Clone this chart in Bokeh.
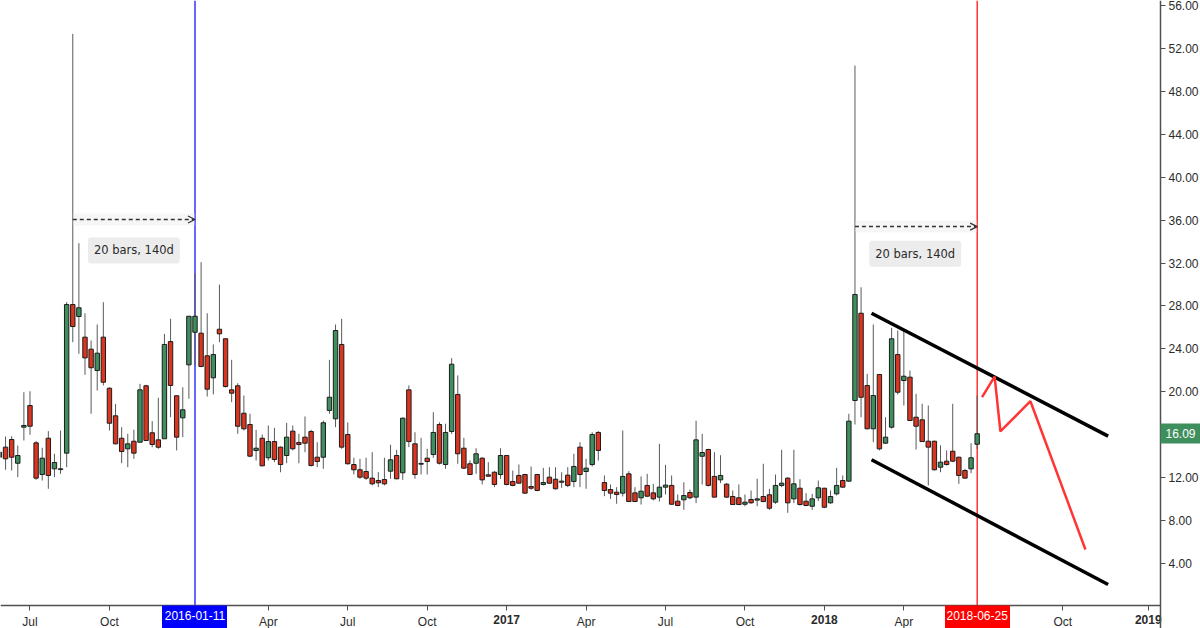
import numpy as np
import pandas as pd
from bokeh.plotting import figure
from bokeh.models import (Range1d, FixedTicker, Label, ColumnDataSource,
                          NumeralTickFormatter, Arrow, OpenHead, LinearAxis, DatetimeAxis)
from bokeh.embed import file_html
from bokeh.resources import INLINE

# ---------------- data (weekly VIX candles, first bar = week of 2015-06-01) ----------------
first_week = "2015-06-01"

opens = [
    13.90, 14.84, 15.55, 13.34, 16.70, 18.72, 15.24, 12.29, 15.67, 12.82,
    12.75, 14.28, 28.13, 27.02, 25.09, 23.97, 21.98, 25.09, 20.33, 17.76,
    15.67, 14.68, 15.39, 15.30, 20.56, 16.18, 15.52, 15.62, 24.68, 19.63,
    17.57, 22.51, 25.55, 25.46, 23.35, 21.30, 25.83, 24.94, 20.18, 20.56,
    18.00, 16.95, 14.53, 15.67, 13.85, 15.36, 14.84, 14.06, 16.33, 15.27,
    15.77, 16.30, 13.90, 13.90, 18.26, 17.48, 24.41, 16.02, 13.22, 12.73,
    12.57, 11.95, 11.73, 11.82, 12.60, 14.06, 12.45, 20.18, 15.15, 13.25,
    13.81, 14.15, 16.95, 13.22, 16.30, 19.75, 14.74, 13.29, 13.34, 13.81,
    12.26, 12.50, 12.29, 14.06, 11.64, 12.20, 12.29, 11.17, 12.29, 11.36,
    12.04, 11.85, 11.57, 12.23, 11.64, 14.84, 12.57, 13.22, 16.21, 11.54,
    10.89, 10.64, 10.55, 12.35, 10.58, 10.12, 11.27, 10.58, 10.18, 11.11,
    11.27, 9.80, 9.93, 10.61, 10.18, 13.99, 14.62, 12.11, 11.79, 11.39,
    10.24, 10.12, 9.52, 9.96, 9.90, 10.24, 10.40, 9.71, 11.27, 11.95,
    10.02, 11.01, 9.80, 9.33, 10.12, 11.01, 9.65, 10.49, 11.73, 11.67,
    19.19, 27.32, 20.58, 16.55, 21.61, 15.21, 16.70, 23.47, 21.05, 21.36,
    17.63, 17.39, 15.39, 15.39, 12.97, 13.53, 14.46, 13.90, 12.66, 12.82,
    15.11,
]
highs = [
    14.90, 15.83, 15.86, 14.99, 19.96, 20.05, 15.40, 14.78, 16.33, 14.22,
    16.39, 28.35, 53.36, 33.85, 27.32, 24.78, 26.27, 28.35, 20.42, 18.87,
    16.70, 16.08, 16.46, 20.74, 20.65, 17.26, 19.44, 25.40, 26.80, 19.65,
    20.42, 27.04, 31.02, 32.08, 27.32, 24.41, 29.99, 24.99, 22.98, 20.80,
    19.65, 17.95, 16.46, 16.02, 16.86, 16.64, 14.90, 17.11, 16.86, 16.08,
    17.70, 16.46, 15.30, 17.32, 22.98, 26.27, 26.80, 17.14, 13.85, 13.75,
    13.85, 14.37, 12.51, 13.85, 15.06, 14.59, 17.60, 20.59, 16.23, 15.71,
    14.69, 18.10, 17.16, 17.02, 23.13, 21.52, 15.71, 13.60, 14.74, 13.90,
    13.44, 12.60, 14.74, 14.10, 12.66, 13.22, 12.35, 13.04, 12.35, 12.91,
    12.97, 12.97, 12.50, 12.97, 14.22, 15.30, 13.75, 16.23, 16.33, 12.20,
    11.36, 11.11, 16.39, 12.60, 11.11, 12.11, 12.35, 11.42, 15.15, 13.19,
    12.20, 10.43, 11.57, 10.89, 17.30, 16.08, 14.69, 14.37, 14.09, 11.50,
    10.80, 11.36, 10.43, 10.80, 11.89, 13.29, 10.96, 12.29, 14.59, 12.04,
    14.59, 11.85, 10.55, 10.49, 11.73, 11.05, 10.80, 12.91, 12.20, 17.95,
    50.41, 29.74, 21.67, 26.27, 21.67, 17.63, 25.96, 25.71, 25.71, 21.98,
    19.81, 18.88, 18.72, 15.45, 15.00, 14.53, 18.88, 13.95, 12.82, 15.21,
    19.65,
]
lows = [
    13.30, 12.73, 12.66, 12.04, 15.46, 15.99, 11.80, 11.73, 10.96, 12.04,
    12.35, 12.97, 24.62, 23.54, 21.58, 17.95, 20.12, 20.59, 16.39, 15.10,
    13.34, 12.97, 13.75, 15.30, 15.40, 14.83, 14.69, 15.62, 17.63, 14.53,
    15.77, 19.35, 22.45, 22.29, 19.56, 19.75, 24.62, 20.40, 19.03, 16.08,
    16.39, 13.90, 13.59, 13.04, 13.59, 13.44, 12.50, 13.34, 14.53, 13.34,
    14.37, 13.04, 12.97, 12.82, 17.95, 16.70, 14.69, 13.22, 12.29, 11.89,
    11.79, 11.27, 11.11, 11.27, 11.89, 11.85, 11.79, 14.84, 11.89, 12.29,
    12.29, 13.84, 13.22, 12.82, 16.08, 13.29, 12.82, 12.25, 12.35, 11.36,
    12.10, 11.11, 11.89, 11.27, 11.20, 11.45, 10.49, 10.87, 10.73, 11.27,
    11.42, 10.89, 11.05, 11.11, 11.11, 11.11, 10.96, 13.04, 13.59, 10.27,
    10.02, 9.56, 10.24, 9.72, 9.72, 9.49, 10.18, 9.87, 9.77, 10.43,
    9.47, 9.33, 8.99, 9.99, 9.62, 11.36, 11.17, 10.15, 11.48, 10.10,
    9.45, 9.45, 9.33, 9.56, 9.33, 9.71, 8.99, 9.56, 11.11, 8.72,
    9.62, 9.40, 9.33, 9.00, 9.81, 9.15, 9.56, 10.33, 11.05, 11.60,
    16.95, 17.63, 16.50, 15.30, 14.53, 15.15, 16.55, 19.75, 18.72, 17.30,
    14.62, 15.33, 11.27, 12.66, 12.50, 13.13, 13.44, 11.42, 11.89, 12.41,
    14.68,
]
closes = [
    14.37, 13.75, 13.90, 14.06, 16.86, 16.79, 11.95, 13.81, 12.20, 13.41,
    12.82, 28.13, 26.08, 27.83, 23.16, 22.24, 23.60, 20.89, 17.07, 15.15,
    14.43, 15.15, 14.28, 20.18, 15.46, 15.09, 14.83, 24.41, 20.59, 15.77,
    18.32, 27.04, 27.04, 22.36, 20.24, 23.47, 25.40, 20.49, 19.87, 16.79,
    16.55, 14.00, 14.74, 13.10, 15.36, 13.69, 13.22, 15.77, 14.69, 15.09,
    15.21, 13.13, 13.50, 17.11, 19.49, 25.71, 14.84, 13.29, 12.73, 12.04,
    11.95, 11.42, 11.52, 11.42, 13.66, 11.89, 17.54, 15.36, 12.29, 13.32,
    13.50, 16.21, 13.34, 16.21, 22.57, 14.22, 12.88, 12.29, 14.22, 11.79,
    12.13, 11.36, 14.06, 11.36, 11.27, 11.48, 10.55, 11.01, 10.80, 11.54,
    11.48, 10.96, 11.67, 11.27, 13.04, 12.29, 12.88, 16.02, 14.53, 10.80,
    10.55, 10.43, 12.11, 9.77, 9.77, 10.73, 10.27, 10.02, 11.11, 11.30,
    9.52, 9.40, 10.33, 10.12, 15.52, 14.34, 11.27, 10.18, 12.20, 10.18,
    9.49, 9.49, 9.71, 9.65, 10.02, 9.77, 9.15, 11.27, 11.48, 9.65,
    11.42, 9.49, 9.40, 10.02, 11.05, 9.24, 10.24, 11.27, 11.11, 17.26,
    29.07, 19.49, 16.55, 19.65, 14.68, 15.77, 24.94, 19.96, 21.45, 17.32,
    16.79, 15.36, 14.84, 12.73, 13.44, 13.22, 13.53, 12.20, 11.95, 13.85,
    16.09,
]

# axis ticks (16.00 is hidden behind the last-price tag, as in the original)
y_ticks = [4, 8, 12, 20, 24, 28, 32, 36, 40, 44, 48, 52, 56]
x_tick_dates = ["2015-07-06", "2015-10-05", "2016-04-04", "2016-07-04", "2016-10-03",
                "2017-04-03", "2017-07-03", "2017-10-02", "2018-04-02", "2018-10-01"]
x_tick_labels = ["Jul", "Oct", "Apr", "Jul", "Oct", "Apr", "Jul", "Oct", "Apr", "Oct"]
year_dates = ["2017-01-02", "2018-01-01", "2019-01-07"]
year_labels = ["2017", "2018", "2019"]

# vertical markers
marker_dates = ["2016-01-11", "2018-06-25"]
marker_colors = ["#0000ff", "#ff0000"]

# date-range measurements
range_starts = ["2015-08-24", "2018-02-05"]
range_ends = ["2016-01-11", "2018-06-25"]
range_levels = [36.06, 35.40]
range_label_dates = ["2015-11-02", "2018-04-15"]
range_label_levels = [33.17, 32.86]
range_texts = ["20 bars, 140d", "20 bars, 140d"]

# channel
channel_dates = ["2018-02-24", "2018-11-22"]
channel_upper = [27.32, 15.87]
channel_lower = [13.66, 2.04]

# projected path
proj_dates = ["2018-06-30 14:00", "2018-07-15", "2018-07-21 14:00", "2018-08-25", "2018-10-27"]
proj_values = [19.50, 21.42, 16.30, 19.12, 5.30]

last_price = 16.09

# ---------------- build ----------------
def ms(d):
    return pd.Timestamp(d).value / 1e6

dates = pd.date_range(first_week, periods=len(opens), freq="7D")
o = np.array(opens); c = np.array(closes)
GREEN = "#3f8f5e"
RED = "#db3520"
colors = [GREEN if cc >= oo else RED for oo, cc in zip(o, c)]

src = ColumnDataSource(dict(date=dates, high=highs, low=lows,
                            top=np.maximum(o, c), bottom=np.minimum(o, c),
                            color=colors))

W, H = 1200, 628
AXIS_W, AXIS_H = 40, 23             # room kept for the price scale / time scale
x_start = ms("2015-06-02 05:00")
x_end = ms("2019-01-21")
y_start, y_end = 0.08, 56.47
x_max = x_end + AXIS_W * (x_end - x_start) / (W - AXIS_W)
y_min = y_start - AXIS_H * (y_end - y_start) / (H - AXIS_H)

p = figure(width=W, height=H, x_axis_location=None, y_axis_location=None,
           x_range=Range1d(x_start, x_max), y_range=Range1d(y_min, y_end),
           output_backend="svg", toolbar_location=None,
           min_border_left=0, min_border_top=0, min_border_right=0, min_border_bottom=0)
p.background_fill_color = "white"
p.border_fill_color = "white"
p.outline_line_color = None
p.grid.visible = False

# vertical markers (behind candles)
p.segment(x0=[ms(d) for d in marker_dates], y0=y_start, x1=[ms(d) for d in marker_dates],
          y1=y_end, line_color=marker_colors, line_width=1.2)

week = 7 * 24 * 3600 * 1000
p.segment(x0="date", y0="high", x1="date", y1="low", source=src,
          line_color="#5a5a5a", line_width=1)
p.vbar(x="date", width=0.72 * week, top="top", bottom="bottom", source=src,
       fill_color="color", line_color="#1c1c1c", line_width=1)

# measurement bands + arrows + labels
for s, e, lvl in zip(range_starts, range_ends, range_levels):
    p.quad(left=[ms(s)], right=[ms(e)], bottom=[lvl - 0.55], top=[lvl + 0.55],
           fill_color="#e6e6e6", fill_alpha=0.35, line_color=None)
    p.add_layout(Arrow(end=OpenHead(size=7, line_color="#333333", line_width=1.3),
                       x_start=ms(s), y_start=lvl, x_end=ms(e), y_end=lvl,
                       line_color="#333333", line_width=1.5, line_dash="4 3"))
for d, lvl, t in zip(range_label_dates, range_label_levels, range_texts):
    p.add_layout(Label(x=ms(d), y=lvl, text=t, text_align="center", text_baseline="middle",
                       text_font="DejaVu Sans", text_font_size="11.5px", text_color="#2a2a2a",
                       background_fill_color="#ececec", background_fill_alpha=1.0,
                       padding=6, border_radius=3))

# channel
p.line(x=[ms(d) for d in channel_dates], y=channel_upper, line_color="black", line_width=3.5)
p.line(x=[ms(d) for d in channel_dates], y=channel_lower, line_color="black", line_width=3.5)

# projection
p.line(x=[ms(d) for d in proj_dates], y=proj_values, line_color="#ff3535", line_width=2.5)

# ---------------- axes (pinned to the data area's bottom / right edge) ----------------
FONT = "Liberation Sans"
common = dict(minor_tick_line_color=None, major_tick_in=0, major_label_text_font=FONT,
              major_label_text_font_size="12px")

time_axis = DatetimeAxis(fixed_location=y_start, bounds=(x_start, x_end),
                         ticker=FixedTicker(ticks=[ms(d) for d in x_tick_dates] + [ms(d) for d in year_dates]),
                         axis_line_color="#505050", axis_line_width=1.5,
                         major_tick_line_color="#505050", major_tick_out=5,
                         major_label_standoff=4, major_label_text_color="#2b2b2b", **common)
ov = {ms(d): t for d, t in zip(x_tick_dates, x_tick_labels)}
ov.update({ms(d): "" for d in year_dates})
time_axis.major_label_overrides = ov
p.add_layout(time_axis, "below")

year_axis = DatetimeAxis(fixed_location=y_start, bounds=(x_start, x_end),
                         ticker=FixedTicker(ticks=[ms(d) for d in year_dates]),
                         major_label_overrides={ms(d): t for d, t in zip(year_dates, year_labels)},
                         axis_line_color=None, major_tick_line_color=None, major_tick_out=5,
                         major_label_standoff=4, major_label_text_font_style="bold",
                         major_label_text_color="#2b2b2b", **common)
p.add_layout(year_axis, "below")

for d, col in zip(marker_dates, marker_colors):
    tag = DatetimeAxis(fixed_location=y_start, bounds=(x_start, x_end),
                       ticker=FixedTicker(ticks=[ms(d)]),
                       major_label_overrides={ms(d): d},
                       axis_line_color=None, major_tick_line_color=col,
                       major_tick_line_width=65, major_tick_out=AXIS_H,
                       major_label_standoff=-18, major_label_text_color="white", **common)
    p.add_layout(tag, "below")

price_axis = LinearAxis(fixed_location=x_end, bounds=(y_min, y_end),
                        ticker=FixedTicker(ticks=y_ticks),
                        formatter=NumeralTickFormatter(format="0.00"),
                        axis_line_color="#505050", axis_line_width=1.5,
                        major_tick_line_color="#505050", major_tick_out=5,
                        major_label_standoff=3, major_label_text_color="#2b2b2b", **common)
p.add_layout(price_axis, "right")

price_tag = LinearAxis(fixed_location=x_end, bounds=(y_min, y_end),
                       ticker=FixedTicker(ticks=[last_price]),
                       formatter=NumeralTickFormatter(format="0.00"),
                       axis_line_color=None, major_tick_line_color=GREEN,
                       major_tick_line_width=20, major_tick_out=AXIS_W,
                       major_label_standoff=-35, major_label_text_color="white", **common)
p.add_layout(price_tag, "right")

open("out.html", "w").write(file_html(p, INLINE))
